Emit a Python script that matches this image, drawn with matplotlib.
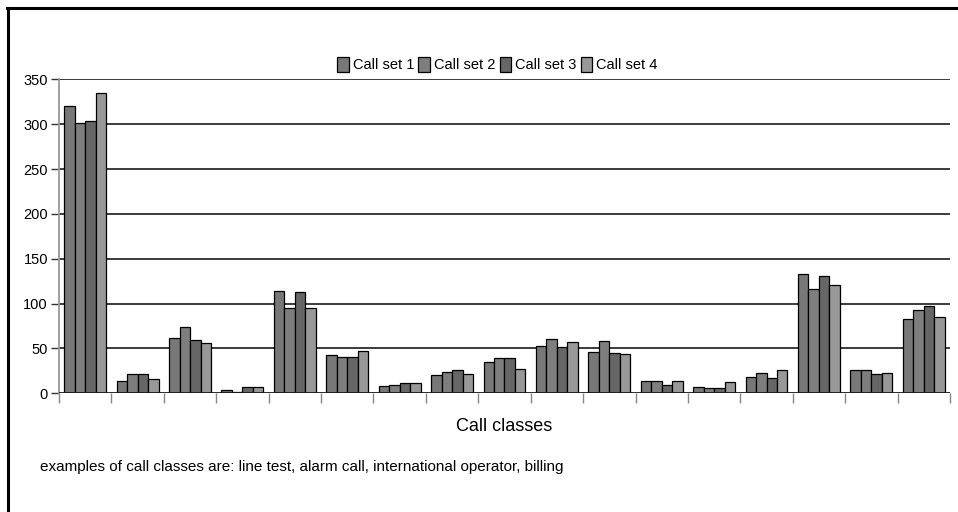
import matplotlib
matplotlib.use("Agg")
import matplotlib.pyplot as plt
import numpy as np
from matplotlib.font_manager import findfont, FontProperties

# pick a narrow sans face if one is around
FONT = "Liberation Sans Narrow"
try:
    findfont(FontProperties(family=FONT), fallback_to_default=False)
except Exception:
    FONT = "Liberation Sans"
plt.rcParams["font.family"] = [FONT, "DejaVu Sans"]

SERIES = ["Call set 1", "Call set 2", "Call set 3", "Call set 4"]
COLORS = ["#787878", "#7e7e7e", "#666666", "#989898"]

set1 = [320, 14, 62, 4, 114, 43, 8, 20, 35, 53, 46, 14, 7, 18, 133, 26, 83]
set2 = [301, 22, 74, 1.5, 95, 40, 9, 24, 39, 60, 58, 14, 6, 23, 116, 26, 93]
set3 = [304, 22, 59, 7, 113, 41, 11, 26, 39, 52, 45, 9, 6, 17, 131, 22, 97]
set4 = [335, 16, 56, 7, 95, 47, 12, 22, 27, 57, 44, 14, 13, 26, 121, 23, 85]

Y_TICKS = [0, 50, 100, 150, 200, 250, 300, 350]


def main():
    data = [set1, set2, set3, set4]
    n = len(set1)
    x = np.arange(n)
    w = 0.2

    fig = plt.figure(figsize=(9.58, 5.12), dpi=100)
    fig.patch.set_facecolor("white")

    # partial frame round the figure (top and left edges)
    fig.add_artist(plt.Line2D([0.0078, 0.999], [0.9834, 0.9834], color="black",
                              linewidth=2.2, transform=fig.transFigure))
    fig.add_artist(plt.Line2D([0.0083, 0.0083], [0.0, 0.9834], color="black",
                              linewidth=2.2, transform=fig.transFigure))

    ax = fig.add_axes([0.0616, 0.2318, 0.9300, 0.6132])

    for i, vals in enumerate(data):
        ax.bar(x + (i - 1.5) * w, vals, width=w, color=COLORS[i], edgecolor="black",
               linewidth=0.9, label=SERIES[i], zorder=3)

    ax.set_xlim(-0.5, n - 0.5)
    ax.set_ylim(0, 350)

    for v in Y_TICKS[1:]:
        ax.axhline(v, color="#1a1a1a", linewidth=1.2, zorder=1)
    ax.axhline(0, color="#1a1a1a", linewidth=1.3, zorder=4)

    ax.set_yticks(Y_TICKS)
    ax.set_yticklabels([str(v) for v in Y_TICKS], fontsize=10.5)
    ax.set_xticks(np.arange(n + 1) - 0.5)
    ax.set_xticklabels([])
    ax.tick_params(axis="y", length=6, width=1, color="#333333", pad=2)
    ax.tick_params(axis="x", length=7, width=1, color="#888888")

    for s in ["top", "right", "bottom"]:
        ax.spines[s].set_visible(False)
    ax.spines["left"].set_color("#999999")
    ax.spines["left"].set_linewidth(1.3)

    ax.set_xlabel("Call classes", fontsize=13, labelpad=7)

    ax.legend(loc="lower center", bbox_to_anchor=(0.492, 1.0), ncol=4, frameon=False,
              fontsize=10.5, handlelength=0.8, handleheight=1.2, handletextpad=0.25,
              columnspacing=0.3, borderaxespad=0.1)

    fig.text(0.042, 0.088, "examples of call classes are: line test, alarm call, international operator, billing",
             fontsize=11, ha="left", va="center")

    fig.savefig("out.png", dpi=100, facecolor="white")


if __name__ == "__main__":
    main()
